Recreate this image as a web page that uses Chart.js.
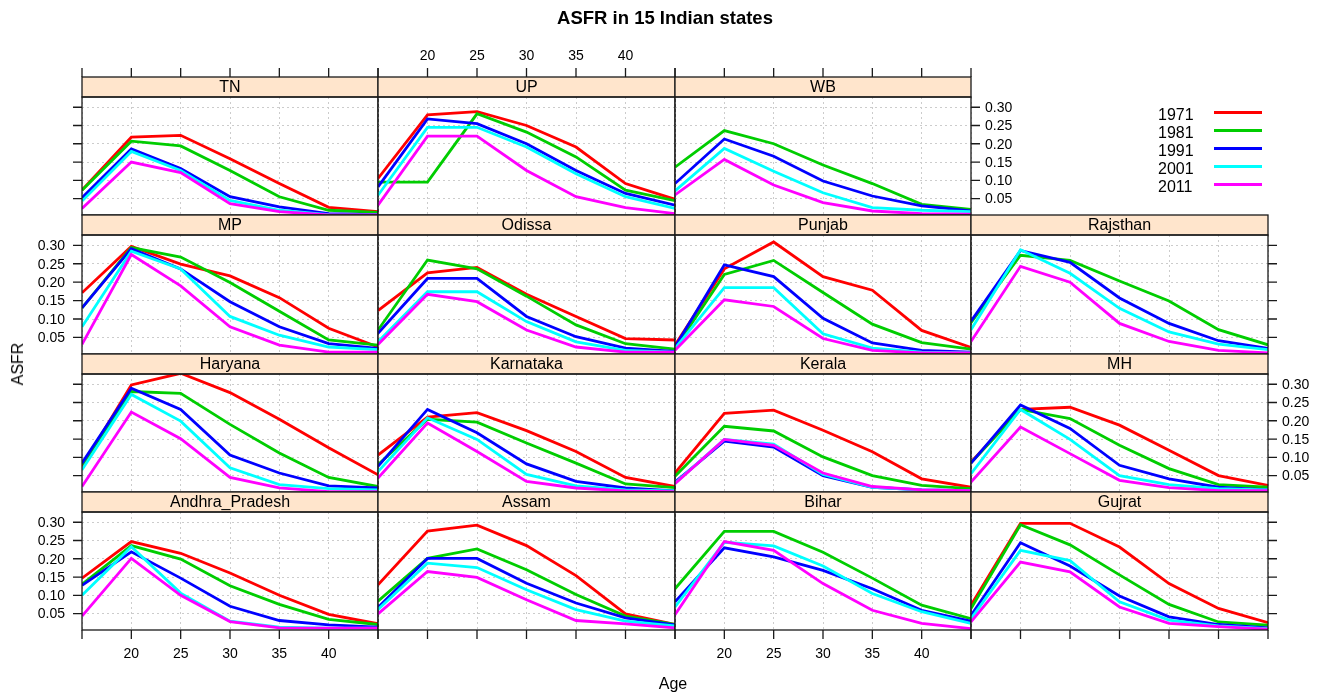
<!DOCTYPE html>
<html><head><meta charset="utf-8">
<script src="https://cdn.jsdelivr.net/npm/chart.js@4/dist/chart.umd.min.js"></script>
<style>
html,body{margin:0;padding:0;background:#fff;}
#wrap{position:relative;width:1327px;height:696px;overflow:hidden;background:#fff;}
#wrap canvas{position:absolute;left:0;top:0;}
.t{position:absolute;font-family:'Liberation Sans',Arial,sans-serif;color:#000;white-space:nowrap;line-height:1;}
</style></head><body><div id="wrap"></div>
<script>
// ---------------- data ----------------
const ages = [15, 20, 25, 30, 35, 40, 45];
const years = ['1971', '1981', '1991', '2001', '2011'];
const seriesColors = ['#FF0000', '#00CD00', '#0000FF', '#00FFFF', '#FF00FF'];
const xTicks = [15, 20, 25, 30, 35, 40, 45];
const xTickLabels = ['', '20', '25', '30', '35', '40', ''];
const yTicks = [0.05, 0.10, 0.15, 0.20, 0.25, 0.30];
const yTickLabels = ['0.05', '0.10', '0.15', '0.20', '0.25', '0.30'];
const titleText = 'ASFR in 15 Indian states';
const xLabel = 'Age';
const yLabel = 'ASFR';

// rows of each state: 1971, 1981, 1991, 2001, 2011 (null = not available)
const TN = [
  [0.073, 0.218, 0.223, 0.159, 0.091, 0.026, 0.014],
  [0.073, 0.207, 0.194, 0.127, 0.055, 0.018, 0.012],
  [0.052, 0.186, 0.132, 0.055, 0.027, 0.009, 0.006],
  [0.043, 0.179, 0.127, 0.045, 0.018, 0.006, 0.005],
  [0.023, 0.150, 0.121, 0.036, 0.014, 0.005, 0.005]];
const UP = [
  [0.105, 0.279, 0.288, 0.250, 0.191, 0.091, 0.048],
  [0.095, 0.095, 0.282, 0.232, 0.164, 0.073, 0.044],
  [0.082, 0.268, 0.255, 0.200, 0.127, 0.064, 0.032],
  [0.059, 0.245, 0.245, 0.191, 0.118, 0.055, 0.023],
  [0.032, 0.221, 0.221, 0.127, 0.055, 0.025, 0.009]];
const WB = [
  null,
  [0.136, 0.236, 0.200, 0.142, 0.091, 0.034, 0.020],
  [0.091, 0.213, 0.166, 0.098, 0.057, 0.030, 0.016],
  [0.071, 0.187, 0.125, 0.066, 0.025, 0.018, 0.014],
  [0.060, 0.157, 0.087, 0.039, 0.016, 0.009, 0.007]];
const MP = [
  [0.171, 0.297, 0.249, 0.217, 0.158, 0.075, 0.024],
  [0.130, 0.294, 0.268, 0.199, 0.121, 0.043, 0.029],
  [0.130, 0.291, 0.236, 0.147, 0.079, 0.033, 0.020],
  [0.079, 0.284, 0.236, 0.107, 0.056, 0.024, 0.017],
  [0.031, 0.275, 0.190, 0.079, 0.029, 0.010, 0.010]];
const Odissa = [
  [0.123, 0.225, 0.240, 0.167, 0.107, 0.047, 0.043],
  [0.070, 0.260, 0.236, 0.162, 0.084, 0.033, 0.018],
  [0.061, 0.210, 0.210, 0.107, 0.052, 0.021, 0.012],
  [0.038, 0.174, 0.174, 0.093, 0.038, 0.015, 0.010],
  [0.031, 0.167, 0.147, 0.070, 0.024, 0.010, 0.010]];
const Punjab = [
  [0.029, 0.236, 0.309, 0.215, 0.178, 0.069, 0.023],
  [0.020, 0.221, 0.259, 0.172, 0.086, 0.036, 0.018],
  [0.024, 0.247, 0.215, 0.102, 0.035, 0.015, 0.010],
  [0.020, 0.185, 0.185, 0.060, 0.021, 0.010, 0.008],
  [0.015, 0.152, 0.134, 0.047, 0.015, 0.008, 0.008]];
const Rajsthan = [
  null,
  [0.090, 0.273, 0.259, 0.203, 0.149, 0.071, 0.030],
  [0.094, 0.286, 0.254, 0.157, 0.088, 0.041, 0.020],
  [0.071, 0.288, 0.224, 0.129, 0.065, 0.032, 0.017],
  [0.039, 0.243, 0.200, 0.088, 0.039, 0.015, 0.008]];
const Haryana = [
  [0.075, 0.298, 0.330, 0.277, 0.204, 0.126, 0.052],
  [0.080, 0.280, 0.275, 0.190, 0.112, 0.045, 0.020],
  [0.084, 0.289, 0.231, 0.106, 0.057, 0.022, 0.016],
  [0.066, 0.272, 0.199, 0.071, 0.025, 0.014, 0.011],
  [0.020, 0.224, 0.151, 0.045, 0.016, 0.006, 0.006]];
const Karnataka = [
  [0.106, 0.210, 0.222, 0.173, 0.116, 0.045, 0.020],
  [0.080, 0.204, 0.196, 0.139, 0.084, 0.027, 0.017],
  [0.075, 0.231, 0.167, 0.082, 0.034, 0.016, 0.008],
  [0.061, 0.208, 0.149, 0.053, 0.022, 0.011, 0.008],
  [0.043, 0.194, 0.116, 0.034, 0.016, 0.008, 0.006]];
const Kerala = [
  [0.057, 0.220, 0.229, 0.174, 0.115, 0.041, 0.018],
  [0.048, 0.185, 0.172, 0.101, 0.050, 0.023, 0.014],
  [0.032, 0.144, 0.128, 0.050, 0.018, 0.011, 0.009],
  [0.029, 0.149, 0.136, 0.053, 0.018, 0.011, 0.009],
  [0.028, 0.149, 0.133, 0.057, 0.020, 0.011, 0.009]];
const MH = [
  [0.087, 0.231, 0.237, 0.188, 0.119, 0.050, 0.023],
  [0.085, 0.231, 0.206, 0.133, 0.069, 0.025, 0.018],
  [0.084, 0.243, 0.179, 0.078, 0.041, 0.018, 0.011],
  [0.055, 0.231, 0.149, 0.050, 0.025, 0.014, 0.011],
  [0.032, 0.183, 0.110, 0.037, 0.017, 0.009, 0.009]];
const Andhra_Pradesh = [
  [0.147, 0.247, 0.215, 0.161, 0.100, 0.048, 0.022],
  [0.130, 0.236, 0.199, 0.126, 0.075, 0.034, 0.020],
  [0.127, 0.219, 0.147, 0.070, 0.031, 0.019, 0.013],
  [0.100, 0.233, 0.106, 0.029, 0.013, 0.010, 0.010],
  [0.043, 0.201, 0.100, 0.028, 0.011, 0.010, 0.010]];
const Assam = [
  [0.129, 0.276, 0.292, 0.236, 0.154, 0.049, 0.020],
  [0.084, 0.201, 0.227, 0.170, 0.102, 0.043, 0.020],
  [0.067, 0.201, 0.201, 0.133, 0.079, 0.038, 0.019],
  [0.061, 0.188, 0.176, 0.115, 0.061, 0.029, 0.016],
  [0.049, 0.165, 0.149, 0.088, 0.031, 0.022, 0.011]];
const Bihar = [
  null,
  [0.118, 0.275, 0.275, 0.218, 0.147, 0.073, 0.036],
  [0.082, 0.230, 0.205, 0.168, 0.118, 0.059, 0.029],
  [0.068, 0.245, 0.235, 0.180, 0.105, 0.055, 0.023],
  [0.047, 0.247, 0.223, 0.132, 0.059, 0.023, 0.009]];
const Gujrat = [
  [0.073, 0.297, 0.297, 0.232, 0.132, 0.064, 0.025],
  [0.064, 0.293, 0.238, 0.156, 0.075, 0.027, 0.018],
  [0.045, 0.244, 0.180, 0.098, 0.041, 0.020, 0.011],
  [0.036, 0.223, 0.195, 0.082, 0.032, 0.016, 0.009],
  [0.027, 0.191, 0.164, 0.068, 0.023, 0.014, 0.007]];

const stateTable = {TN, UP, WB, MP, Odissa, Punjab, Rajsthan, Haryana, Karnataka,
  Kerala, MH, Andhra_Pradesh, Assam, Bihar, Gujrat};

// ---------------- layout ----------------
const W = 1327, H = 696;
const layoutRows = [
  ['TN', 'UP', 'WB', null],
  ['MP', 'Odissa', 'Punjab', 'Rajsthan'],
  ['Haryana', 'Karnataka', 'Kerala', 'MH'],
  ['Andhra_Pradesh', 'Assam', 'Bihar', 'Gujrat']];
const colEdges = [82, 378, 675, 971, 1268];
const stripTops = [77, 215, 354, 492];
const panelBottoms = [215, 354, 492, 630];
const STRIP_H = 20;
const X_MIN = 15, X_MAX = 45, Y_MIN = 0.005, Y_MAX = 0.328;
const TICK = 9;
const FONT = "'Liberation Sans', Arial, sans-serif";
const stripFill = '#FFE5CC';
const frameColor = '#1a1a1a';

const wrap = document.getElementById('wrap');

function axisSides(r, c) {
  const nRows = layoutRows.length, nCols = 4;
  const exists = (rr, cc) => rr >= 0 && rr < nRows && cc >= 0 && cc < nCols && layoutRows[rr][cc];
  const s = {};
  if (c === 0) s.left = (r % 2 === 1) ? 'labels' : 'ticks';
  if (!exists(r, c + 1)) s.right = (r % 2 === 0) ? 'labels' : 'ticks';
  if (r === 0) s.top = (c % 2 === 1) ? 'labels' : 'ticks';
  if (r === nRows - 1) s.bottom = (c % 2 === 0) ? 'labels' : 'ticks';
  return s;
}

function framePlugin(name, sides) {
  return {
    id: 'latticeFrame',
    afterDraw(chart) {
      const ctx = chart.ctx, a = chart.chartArea;
      const xs = chart.scales.x, ys = chart.scales.y;
      const w = a.right - a.left, h = a.bottom - a.top;
      ctx.save();
      // strip
      ctx.fillStyle = stripFill;
      ctx.fillRect(a.left, a.top - STRIP_H, w, STRIP_H);
      ctx.lineWidth = 1.3;
      ctx.strokeStyle = frameColor;
      ctx.strokeRect(a.left, a.top - STRIP_H, w, STRIP_H);
      ctx.strokeRect(a.left, a.top, w, h);
      ctx.fillStyle = '#000';
      ctx.font = '16px ' + FONT;
      ctx.textAlign = 'center';
      ctx.textBaseline = 'middle';
      ctx.fillText(name, (a.left + a.right) / 2, a.top - STRIP_H / 2 + 1);
      // axes
      ctx.lineWidth = 1.3;
      ctx.font = '14px ' + FONT;
      ctx.fillStyle = '#000';
      ctx.beginPath();
      if (sides.left) yTicks.forEach(v => { const p = ys.getPixelForValue(v); ctx.moveTo(a.left - TICK, p); ctx.lineTo(a.left, p); });
      if (sides.right) yTicks.forEach(v => { const p = ys.getPixelForValue(v); ctx.moveTo(a.right, p); ctx.lineTo(a.right + TICK, p); });
      if (sides.bottom) xTicks.forEach(v => { const p = xs.getPixelForValue(v); ctx.moveTo(p, a.bottom); ctx.lineTo(p, a.bottom + TICK); });
      const topY = a.top - STRIP_H;
      if (sides.top) xTicks.forEach(v => { const p = xs.getPixelForValue(v); ctx.moveTo(p, topY - TICK); ctx.lineTo(p, topY); });
      ctx.stroke();
      if (sides.left === 'labels') {
        ctx.textAlign = 'right';
        yTicks.forEach((v, i) => ctx.fillText(yTickLabels[i], a.left - 17, ys.getPixelForValue(v) + 1));
      }
      if (sides.right === 'labels') {
        ctx.textAlign = 'left';
        yTicks.forEach((v, i) => ctx.fillText(yTickLabels[i], a.right + 14, ys.getPixelForValue(v) + 1));
      }
      ctx.textAlign = 'center';
      if (sides.bottom === 'labels') xTicks.forEach((v, i) => ctx.fillText(xTickLabels[i], xs.getPixelForValue(v), a.bottom + 24));
      if (sides.top === 'labels') xTicks.forEach((v, i) => ctx.fillText(xTickLabels[i], xs.getPixelForValue(v), topY - 21));
      ctx.restore();
    }
  };
}

function makePanel(name, r, c) {
  const canvas = document.createElement('canvas');
  canvas.width = W; canvas.height = H;
  wrap.appendChild(canvas);
  const vals = stateTable[name];
  const datasets = [];
  years.forEach((y, i) => {
    if (!vals[i]) return;
    datasets.push({
      label: y,
      data: vals[i].map((v, j) => ({x: ages[j], y: v})),
      borderColor: seriesColors[i],
      backgroundColor: seriesColors[i],
      borderWidth: 2.8,
      pointRadius: 0,
      tension: 0,
      fill: false,
      clip: 0,
      order: years.length - i
    });
  });
  const left = colEdges[c], right = colEdges[c + 1];
  const top = stripTops[r] + STRIP_H, bottom = panelBottoms[r];
  const gridColor = '#CCCCCC';
  new Chart(canvas, {
    type: 'line',
    data: {datasets},
    options: {
      responsive: false, animation: false, devicePixelRatio: 1, events: [],
      layout: {padding: {left: left, top: top, right: W - right, bottom: H - bottom}},
      plugins: {legend: {display: false}, tooltip: {enabled: false}, title: {display: false}},
      scales: {
        x: {
          type: 'linear', min: X_MIN, max: X_MAX,
          afterBuildTicks: s => { s.ticks = xTicks.map(v => ({value: v})); },
          afterFit: s => { s.height = 0; },
          ticks: {display: false},
          grid: {color: gridColor, lineWidth: 1, drawTicks: false},
          border: {display: false, dash: [2, 3]}
        },
        y: {
          type: 'linear', min: Y_MIN, max: Y_MAX,
          afterBuildTicks: s => { s.ticks = yTicks.map(v => ({value: v})); },
          afterFit: s => { s.width = 0; },
          ticks: {display: false},
          grid: {color: gridColor, lineWidth: 1, drawTicks: false},
          border: {display: false, dash: [2, 3]}
        }
      }
    },
    plugins: [framePlugin(name, axisSides(r, c))]
  });
}

layoutRows.forEach((row, r) => row.forEach((name, c) => { if (name) makePanel(name, r, c); }));

// ---------------- text: title, axis labels, legend ----------------
function addText(txt, x, y, css, anchor) {
  const d = document.createElement('div');
  d.className = 't';
  d.textContent = txt;
  Object.assign(d.style, css);
  d.style.left = x + 'px';
  d.style.top = y + 'px';
  d.style.transform = anchor || 'translate(-50%,-50%)';
  wrap.appendChild(d);
  return d;
}
addText(titleText, 665, 18, {fontSize: '18.5px', fontWeight: 'bold'});
addText(xLabel, 673, 684, {fontSize: '16px'});
addText(yLabel, 18, 364, {fontSize: '16px'}, 'translate(-50%,-50%) rotate(-90deg)');
years.forEach((y, i) => {
  const ly = 112.5 + i * 18;
  addText(y, 1158, ly + 2.5, {fontSize: '16px'}, 'translate(0,-50%)');
  const line = document.createElement('div');
  Object.assign(line.style, {position: 'absolute', left: '1214px', top: (ly - 1.5) + 'px',
    width: '48px', height: '3px', background: seriesColors[i]});
  wrap.appendChild(line);
});
</script>
</body></html>
